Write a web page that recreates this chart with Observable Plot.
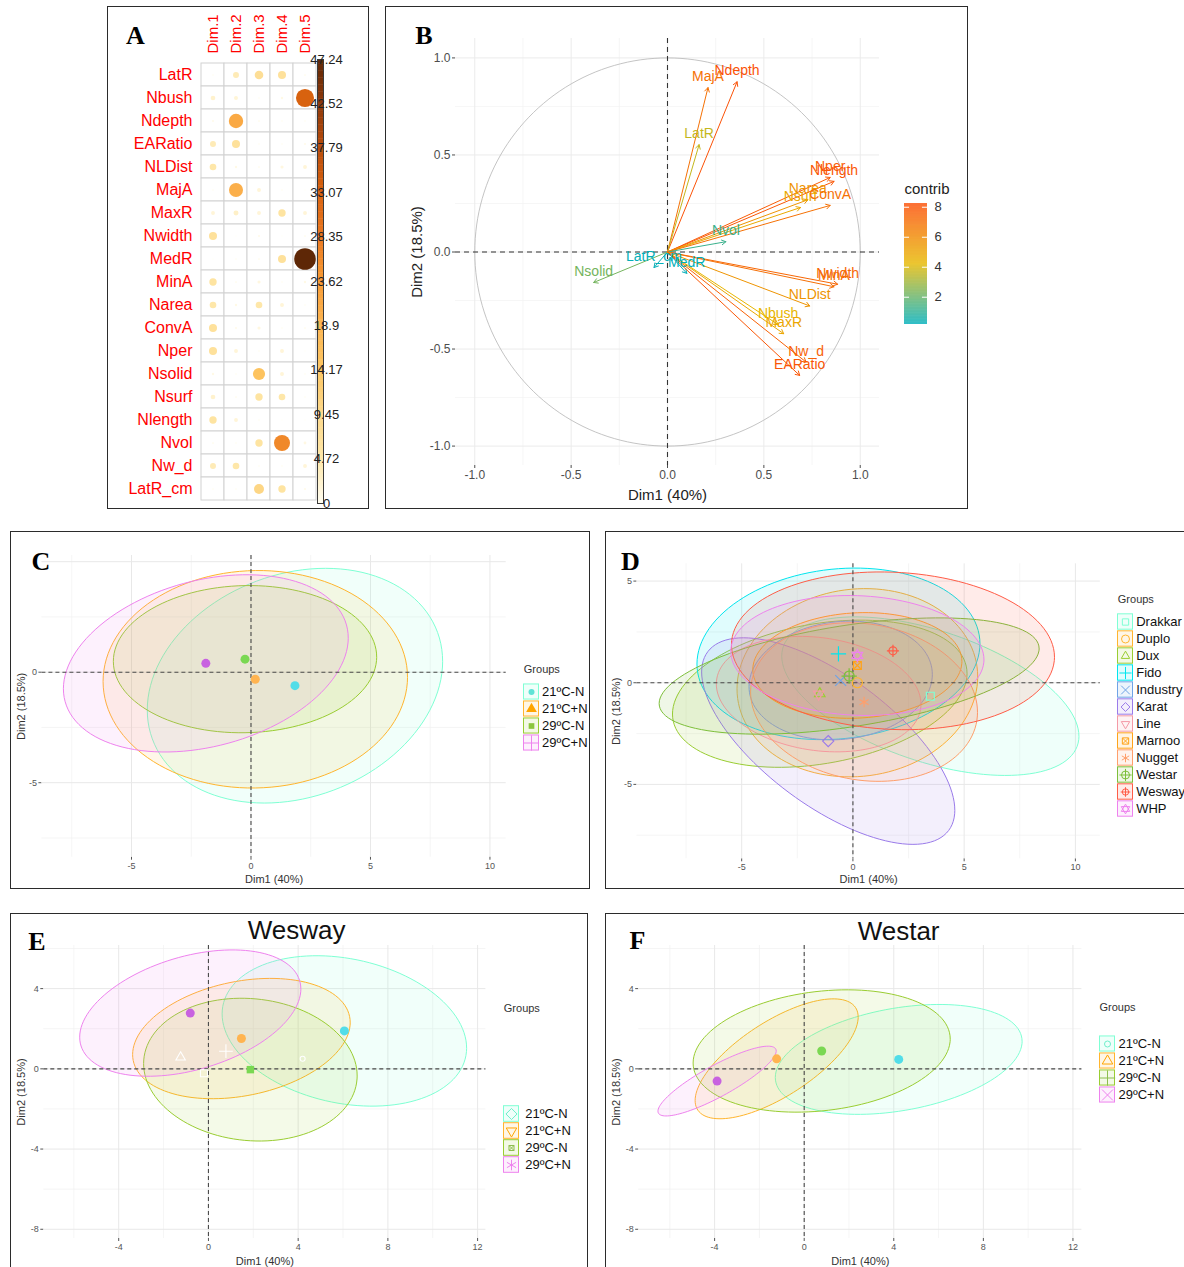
<!DOCTYPE html>
<html>
<head>
<meta charset="utf-8">
<script src="https://cdn.jsdelivr.net/npm/d3@7"></script>
<script src="https://cdn.jsdelivr.net/npm/@observablehq/plot@0.6"></script>
<style>
html,body{margin:0;padding:0;background:#fff;}
body{width:1184px;height:1267px;position:relative;overflow:hidden;}
.panel{position:absolute;}
.panel svg{position:absolute;left:0;top:0;}
.frame{position:absolute;border:1.5px solid #2b2b2b;box-sizing:border-box;pointer-events:none;}
#labels{position:absolute;left:0;top:0;pointer-events:none;}
</style>
</head>
<body>
<script>
// ---------------- DATA ----------------
// Panel A: contributions (%) of variables to dimensions 1-5
const aDims = ["Dim.1","Dim.2","Dim.3","Dim.4","Dim.5"];
const aVars = ["LatR","Nbush","Ndepth","EARatio","NLDist","MajA","MaxR","Nwidth","MedR","MinA","Narea","ConvA","Nper","Nsolid","Nsurf","Nlength","Nvol","Nw_d","LatR_cm"];
const aDim1 = [0.2, 2.2, 0.4, 3.6, 4.5, 0.2, 1.5, 6.5, 0.1, 5.5, 4.5, 6.5, 6.5, 0.6, 2.2, 5.5, 0.3, 3.6, 0.2];
const aDim2 = [3.6, 1.6, 21, 6.5, 0.6, 20, 2.5, 0.1, 0.2, 0.3, 0.6, 0.4, 1.5, 0.2, 0.3, 1.5, 0.2, 4.5, 0.2];
const aDim3 = [7.5, 0.2, 0.3, 0.2, 0.3, 1.5, 1.5, 0.4, 0.3, 1.0, 4.5, 1.0, 0.2, 15, 5.5, 0.2, 5.5, 0.2, 10];
const aDim4 = [6.5, 0.6, 0.2, 0.2, 1.0, 0.2, 5.5, 0.1, 6.5, 0.2, 1.5, 0.2, 1.5, 1.5, 4.5, 0.1, 26, 0.2, 5.5];
const aDim5 = [0.3, 33, 0.2, 0.4, 1.5, 0.1, 1.5, 0.3, 47.24, 0.6, 0.2, 0.3, 0.1, 0.2, 0.2, 0.1, 0.8, 1.5, 0.4];
const aTicks = [0, 4.72, 9.45, 14.17, 18.9, 23.62, 28.35, 33.07, 37.79, 42.52, 47.24];
const aTickLabels = ["0","4.72","9.45","14.17","18.9","23.62","28.35","33.07","37.79","42.52","47.24"];

// Panel B: variable coordinates and contributions
const bVars = ["MajA","Ndepth","LatR","Nper","Nlength","Narea","Nsurf","ConvA","Nvol","LatR_cm","MedR","Nsolid","Nwidth","MinA","NLDist","Nbush","MaxR","Nw_d","EARatio"];
const bDim1 = [0.21, 0.361, 0.164, 0.844, 0.864, 0.728, 0.69, 0.844, 0.303, -0.07, 0.10, -0.383, 0.883, 0.864, 0.738, 0.574, 0.603, 0.719, 0.686];
const bDim2 = [0.847, 0.877, 0.553, 0.384, 0.364, 0.269, 0.229, 0.24, 0.053, -0.08, -0.11, -0.157, -0.166, -0.179, -0.278, -0.374, -0.421, -0.567, -0.636];
const bContrib = [6.9, 8.1, 3.6, 7.7, 7.9, 5.6, 4.8, 6.9, 1.2, 0.25, 0.25, 2.2, 7.3, 7.0, 5.6, 4.3, 4.9, 7.5, 7.9];
const bTicks = [-1, -0.5, 0, 0.5, 1];
const bLegendTicks = [2, 4, 6, 8];

// Panel C: temperature x nitrogen groups (means and ellipse shapes)
const tGroups = ["21ºC-N","21ºC+N","29ºC-N","29ºC+N"];
const cMeanX = [1.84, 0.18, -0.25, -1.89];
const cMeanY = [-0.61, -0.32, 0.59, 0.40];
const cHalfW = [6.18, 6.37, 5.51, 5.96];
const cHalfH = [5.31, 4.92, 3.33, 4.01];
const cTilt  = [1.1, 0.1, 0.1, 1.15];

// Panel D: cultivars
const dGroups = ["Drakkar","Duplo","Dux","Fido","Industry","Karat","Line","Marnoo","Nugget","Westar","Wesway","WHP"];
const dMeanX = [3.48, 0.2, -1.49, -0.65, -0.55, -1.11, -1.54, 0.2, 0.5, -0.17, 1.80, 0.2];
const dMeanY = [-0.66, 0.0, -0.54, 1.42, 0.11, -2.87, -0.56, 0.85, -0.95, 0.33, 1.57, 1.34];
const dHalfW = [6.68, 5.41, 6.62, 6.36, 4.12, 5.69, 4.6, 4.7, 5.1, 8.54, 7.26, 5.69];
const dHalfH = [3.90, 4.63, 3.62, 4.22, 2.92, 5.08, 2.84, 2.6, 3.9, 2.86, 3.88, 2.95];
const dTilt  = [-1.97, 0.3, 1.0, 0.5, 0.3, -3.4, -0.5, 0.2, -0.5, 1.35, -0.3, -0.2];

// Panel E: Wesway
const eMeanX = [6.06, 1.47, 1.87, -0.81];
const eMeanY = [1.89, 1.51, -0.04, 2.78];
const eHalfW = [5.45, 4.85, 4.76, 4.93];
const eHalfH = [3.75, 3.0, 3.56, 3.15];
const eTilt  = [-0.85, 0.8, -0.3, 1.2];
const eIndX = [-1.24, 0.78, 4.2, -0.2];
const eIndY = [0.58, 0.88, 0.5, -0.22];

// Panel F: Westar
const fMeanX = [4.22, -1.23, 0.78, -3.89];
const fMeanY = [0.47, 0.5, 0.89, -0.61];
const fHalfW = [5.51, 3.64, 5.74, 2.64];
const fHalfH = [2.74, 2.99, 3.05, 1.74];
const fTilt  = [0.9, 2.08, 0.6, 1.5];

// ---------------- STYLE ----------------
const SANS = '"Liberation Sans", Arial, sans-serif';
const aColor = {type: "linear", domain: [0, 4.72, 9.45, 14.17, 18.9, 23.62, 28.35, 33.07, 37.79, 42.52, 47.24],
  range: ["#FFFCEF", "#FEE6A6", "#FDD88A", "#FDC662", "#FCB552", "#F89A33", "#E97720", "#D8620F", "#B84C0B", "#8C380A", "#5E2706"]};
const tColors = ["#7FFFD4", "#FFB52E", "#9ACD32", "#EE82EE"];
const tMean = ["#52DDE8", "#FFB450", "#7AD852", "#C862E0"];
const dColors = ["#7FFFD4","#FFB52E","#9ACD32","#00E5EE","#6FA3E6","#9A7BEA","#F49AA6","#FFA31A","#FF9F6B","#7DBF3A","#FF5C47","#EE82EE"];
const dSym = [
  [{s:"square2"}], [{s:"circle"}], [{s:"triangle2"}], [{s:"plus"}], [{s:"times"}], [{s:"diamond2"}],
  [{s:"triangle2", rot:180}], [{s:"square2"},{s:"times", k:0.7}], [{s:"asterisk"}],
  [{s:"circle"},{s:"plus"}], [{s:"circle", k:0.8},{s:"plus", k:0.8}], [{s:"triangle2"},{s:"triangle2", rot:180}]
];

function panel(L, T, W, H) {
  const d = document.createElement("div");
  d.className = "panel";
  Object.assign(d.style, {left: L + "px", top: T + "px", width: W + "px", height: H + "px"});
  document.body.appendChild(d);
  return d;
}
function frame(L, T, W, H) {
  const f = document.createElement("div");
  f.className = "frame";
  Object.assign(f.style, {left: L + "px", top: T + "px", width: W + "px", height: H + "px"});
  document.body.appendChild(f);
}
const st = (fs, color) => ({background: "transparent", overflow: "visible", fontFamily: SANS, fontSize: fs, color: color || "#4d4d4d"});

function ellipsePts(cx, cy, hw, hh, tilt) {
  const k = Math.sqrt(Math.max(hh * hh - tilt * tilt, 0));
  return d3.range(0, 360, 3).map(a => {
    const t = a * Math.PI / 180;
    return {x: cx + hw * Math.cos(t), y: cy + tilt * Math.cos(t) + k * Math.sin(t)};
  });
}

// ---------------- PANEL A ----------------
{
  const p = panel(107, 6, 262, 503);
  const cols = [aDim1, aDim2, aDim3, aDim4, aDim5];
  const cells = aVars.flatMap((r, i) => aDims.map((d, j) => ({row: r, dim: d, v: cols[j][i]})));
  p.appendChild(Plot.plot({
    width: 262, height: 503, marginLeft: 93, marginRight: 52, marginTop: 53, marginBottom: 6,
    x: {type: "band", domain: aDims, padding: 0, axis: null},
    y: {type: "band", domain: aVars, padding: 0, axis: null},
    r: {type: "sqrt", domain: [0, 47.24], range: [0, 10.8]},
    color: aColor,
    style: st("12px"),
    marks: [
      Plot.cell(cells, {x: "dim", y: "row", fill: "white", stroke: "#d2d2d2", strokeWidth: 1, inset: 0}),
      Plot.dot(cells, {x: "dim", y: "row", r: "v", fill: "v"}),
      Plot.text(aVars, {y: d => d, frameAnchor: "left", textAnchor: "end", lineAnchor: "middle", dx: -8, fill: "#ff0000", fontSize: 16}),
      Plot.text(aDims, {x: d => d, frameAnchor: "top", rotate: -90, textAnchor: "start", lineAnchor: "middle", dy: -6, fill: "#ff0000", fontSize: 15})
    ]
  }));
  const aBar = d3.range(0, 47.24, 0.25);
  p.appendChild(Plot.plot({
    width: 262, height: 503, marginLeft: 210, marginRight: 46, marginTop: 53, marginBottom: 6,
    x: {domain: [0, 1], axis: null},
    y: {domain: [0, 47.24], axis: null},
    color: aColor,
    style: st("13px"),
    marks: [
      Plot.rect(aBar, {x1: () => 0, x2: () => 1, y1: d => d, y2: d => Math.min(d + 0.3, 47.24), fill: d => d}),
      Plot.frame({stroke: "#3a3a3a", strokeWidth: 1}),
      Plot.text(aTicks, {y: d => d, frameAnchor: "right", text: (d, i) => aTickLabels[i], textAnchor: "middle", lineAnchor: "middle", dx: 3, fontSize: 13, fill: "#222"})
    ]
  }));
}

// ---------------- PANEL B ----------------
{
  const p = panel(385, 6, 583, 503);
  const bData = bVars.map((v, i) => ({name: v, x: bDim1[i], y: bDim2[i], c: bContrib[i]}));
  const circle = d3.range(0, 361, 2).map(a => ({x: Math.cos(a * Math.PI / 180), y: Math.sin(a * Math.PI / 180)}));
  const minor = [-0.75, -0.25, 0.25, 0.75];
  const colorB = {type: "linear", domain: [0.18, 4.215, 8.25], range: ["#00AFBB", "#E7B800", "#FC4E07"]};
  p.appendChild(Plot.plot({
    width: 583, height: 503, marginLeft: 70, marginRight: 89, marginTop: 32, marginBottom: 44,
    x: {domain: [-1.1, 1.1], ticks: bTicks, tickFormat: d => d.toFixed(1), tickSize: 3, tickPadding: 2, label: null},
    y: {domain: [-1.1, 1.1], ticks: bTicks, tickFormat: d => d.toFixed(1), tickSize: 3, tickPadding: 2, label: null},
    color: colorB,
    style: st("12px"),
    marks: [
      Plot.ruleX(minor, {stroke: "#f2f2f2", strokeWidth: 0.7}),
      Plot.ruleY(minor, {stroke: "#f2f2f2", strokeWidth: 0.7}),
      Plot.ruleX(bTicks, {stroke: "#ebebeb", strokeWidth: 1}),
      Plot.ruleY(bTicks, {stroke: "#ebebeb", strokeWidth: 1}),
      Plot.line(circle, {x: "x", y: "y", stroke: "#b5b5b5", strokeWidth: 0.8}),
      Plot.ruleX([0], {stroke: "#333", strokeDasharray: "5,4", strokeWidth: 1.1}),
      Plot.ruleY([0], {stroke: "#333", strokeDasharray: "5,4", strokeWidth: 1.1}),
      Plot.arrow(bData, {x1: () => 0, y1: () => 0, x2: "x", y2: "y", stroke: "c", headLength: 7, strokeWidth: 1}),
      Plot.text(bData, {x: "x", y: "y", text: "name", fill: "c", dy: -11, fontSize: 14, lineAnchor: "middle"}),
      Plot.text(["Dim1 (40%)"], {frameAnchor: "bottom", lineAnchor: "middle", dy: 30, fontSize: 15, fill: "#222"}),
      Plot.text(["Dim2 (18.5%)"], {frameAnchor: "left", rotate: -90, textAnchor: "middle", lineAnchor: "middle", dx: -38, fontSize: 15, fill: "#222"})
    ]
  }));
  const bBar = d3.range(0.18, 8.25, 0.04);
  p.appendChild(Plot.plot({
    width: 583, height: 503, marginLeft: 519, marginRight: 41, marginTop: 197, marginBottom: 185,
    x: {domain: [0, 1], axis: null},
    y: {domain: [0.18, 8.25], axis: null},
    color: colorB,
    style: st("13px"),
    marks: [
      Plot.rect(bBar, {x1: () => 0, x2: () => 1, y1: d => d, y2: d => Math.min(d + 0.045, 8.25), fill: d => d}),
      Plot.ruleY(bLegendTicks, {x1: () => 0, x2: () => 0.22, stroke: "white", strokeWidth: 1}),
      Plot.ruleY(bLegendTicks, {x1: () => 0.78, x2: () => 1, stroke: "white", strokeWidth: 1}),
      Plot.text(bLegendTicks, {y: d => d, frameAnchor: "right", text: d => String(d), textAnchor: "start", lineAnchor: "middle", dx: 7, fontSize: 13, fill: "#333"}),
      Plot.text(["contrib"], {frameAnchor: "top-left", textAnchor: "start", lineAnchor: "middle", dy: -14, fontSize: 15, fill: "#222"})
    ]
  }));
}

// ---------------- PCA individual panels ----------------
function indPlot(o) {
  const marks = [
    Plot.ruleX(o.xMinor, {stroke: "#f1f1f1", strokeWidth: 0.7}),
    Plot.ruleY(o.yMinor, {stroke: "#f1f1f1", strokeWidth: 0.7}),
    Plot.ruleX(o.xMajor, {stroke: "#e8e8e8", strokeWidth: 1}),
    Plot.ruleY(o.yMajor, {stroke: "#e8e8e8", strokeWidth: 1})
  ];
  o.cx.forEach((cx, i) => {
    marks.push(Plot.line(ellipsePts(cx, o.cy[i], o.hw[i], o.hh[i], o.tilt[i]),
      {x: "x", y: "y", curve: "linear-closed", stroke: o.colors[i], fill: o.colors[i], fillOpacity: o.alpha || 0.1, strokeWidth: 1}));
  });
  marks.push(Plot.ruleX([0], {stroke: "#4a4a4a", strokeDasharray: "4,3", strokeWidth: 1.1}));
  marks.push(Plot.ruleY([0], {stroke: "#4a4a4a", strokeDasharray: "4,3", strokeWidth: 1.1}));
  (o.extra || []).forEach(m => marks.push(m));
  o.cx.forEach((cx, i) => {
    o.meanParts[i].forEach(pp => marks.push(Plot.dot([0], {
      x: () => cx, y: () => o.cy[i], symbol: pp.s, r: pp.r, rotate: pp.rot || 0,
      fill: pp.fill || "none", stroke: pp.stroke || "none", strokeWidth: pp.sw || 1
    })));
  });
  marks.push(Plot.text(["Dim1 (40%)"], {frameAnchor: "bottom", lineAnchor: "middle", dy: o.xTitleDy, fontSize: 11, fill: "#333"}));
  marks.push(Plot.text(["Dim2 (18.5%)"], {frameAnchor: "left", rotate: -90, textAnchor: "middle", lineAnchor: "middle", dx: o.yTitleDx, fontSize: 11, fill: "#333"}));
  return Plot.plot({
    width: o.W, height: o.H, marginLeft: o.mL, marginRight: o.mR, marginTop: o.mT, marginBottom: o.mB,
    x: {domain: o.xd, ticks: o.xTicks, tickFormat: d => String(d), tickSize: 3, tickPadding: 2, label: null},
    y: {domain: o.yd, ticks: o.yTicks, tickFormat: d => String(d), tickSize: 3, tickPadding: 2, label: null},
    style: st("9px", "#555"),
    marks
  });
}

function legendPlot(o) {
  const n = o.groups.length;
  const mT = o.firstY - o.step / 2;
  const mB = o.H - (o.firstY + o.step * (n - 0.5));
  const ins = (o.step - 16) / 2;
  const marks = [
    Plot.cell(o.groups, {x: () => "k", y: d => d, fill: (d, i) => o.colors[i], fillOpacity: 0.12,
      stroke: (d, i) => o.colors[i], strokeWidth: 1, insetTop: ins, insetBottom: ins, insetLeft: 0.5, insetRight: 0.5})
  ];
  o.groups.forEach((g, i) => {
    o.parts[i].forEach(pp => marks.push(Plot.dot([g], {
      x: () => "k", y: d => d, symbol: pp.s, r: pp.r, rotate: pp.rot || 0,
      fill: pp.fill || "none", stroke: pp.stroke || "none", strokeWidth: pp.sw || 1
    })));
  });
  marks.push(Plot.text(o.groups, {x: () => "k", y: d => d, text: d => d, textAnchor: "start", lineAnchor: "middle", dx: o.labelDx, fontSize: 13, fill: "#111"}));
  marks.push(Plot.text(["Groups"], {frameAnchor: "top-left", textAnchor: "start", lineAnchor: "middle", dy: o.titleY - mT, fontSize: 11, fill: "#333"}));
  return Plot.plot({
    width: o.W, height: o.H, marginLeft: o.boxLeft, marginRight: o.W - o.boxLeft - 16, marginTop: mT, marginBottom: mB,
    x: {type: "band", domain: ["k"], padding: 0, axis: null},
    y: {type: "band", domain: o.groups, padding: 0, axis: null},
    color: {type: "identity"},
    style: st("13px", "#111"),
    marks
  });
}

const meanDots = tMean.map(c => [{s: "circle", r: 4.5, fill: c}]);

// ---------------- PANEL C ----------------
{
  const p = panel(10, 531, 580, 358);
  p.appendChild(indPlot({
    W: 580, H: 358, mL: 31.4, mR: 84.3, mT: 24, mB: 32.3, xd: [-8.75, 10.68], yd: [-8.37, 5.28],
    xTicks: [-5, 0, 5, 10], yTicks: [-5, 0], xMajor: [-5, 0, 5, 10], xMinor: [-7.5, -2.5, 2.5, 7.5],
    yMajor: [-5, 0, 5], yMinor: [-7.5, -2.5, 2.5],
    cx: cMeanX, cy: cMeanY, hw: cHalfW, hh: cHalfH, tilt: cTilt, colors: tColors, meanParts: meanDots,
    xTitleDy: 22, yTitleDx: -20, alpha: 0.11
  }));
  p.appendChild(legendPlot({
    W: 580, H: 358, boxLeft: 513.3, firstY: 158.7, step: 17.9, groups: tGroups, colors: tColors, labelDx: 10.5, titleY: 138,
    parts: [[{s: "circle", r: 3, fill: "#5FE3D6"}], [{s: "triangle", r: 4, fill: "#FFA500"}], [{s: "square", r: 3.2, fill: "#8CC63F"}], [{s: "plus", r: 5, stroke: "#EE82EE"}]]
  }));
}

// ---------------- PANEL D ----------------
{
  const p = panel(605, 531, 579, 358);
  const dMeans = dSym.map((parts, i) => parts.map(q => ({s: q.s, rot: q.rot, r: 5 * (q.k || 1), stroke: dColors[i], sw: 1.2})));
  const dLeg = dSym.map((parts, i) => parts.map(q => ({s: q.s, rot: q.rot, r: 4 * (q.k || 1), stroke: dColors[i], sw: 1})));
  p.appendChild(indPlot({
    W: 579, H: 358, mL: 31.4, mR: 84.2, mT: 32.3, mB: 30.7, xd: [-9.71, 11.12], yd: [-8.66, 5.85],
    xTicks: [-5, 0, 5, 10], yTicks: [-5, 0, 5], xMajor: [-5, 0, 5, 10], xMinor: [-7.5, -2.5, 2.5, 7.5],
    yMajor: [-5, 0, 5], yMinor: [-7.5, -2.5, 2.5],
    cx: dMeanX, cy: dMeanY, hw: dHalfW, hh: dHalfH, tilt: dTilt, colors: dColors, meanParts: dMeans,
    xTitleDy: 21, yTitleDx: -20, alpha: 0.12
  }));
  p.appendChild(legendPlot({
    W: 579, H: 358, boxLeft: 512.3, firstY: 87, step: 17.64, groups: dGroups, colors: dColors, labelDx: 10.7, titleY: 68,
    parts: dLeg
  }));
}

// ---------------- PANEL E ----------------
{
  const p = panel(10, 913, 578, 354);
  const eSyms = ["triangle2", "plus", "circle", "square2"];
  const extra = eIndX.map((x, i) => Plot.dot([0], {x: () => x, y: () => eIndY[i], symbol: eSyms[i], r: i === 2 ? 2.5 : 4.5, stroke: "white", fill: "none", strokeWidth: 1.1}));
  const eMeans = [[{s: "circle", r: 4.5, fill: tMean[0]}], [{s: "circle", r: 4.5, fill: tMean[1]}], [{s: "square", r: 4.2, fill: tMean[2]}], [{s: "circle", r: 4.5, fill: tMean[3]}]];
  p.appendChild(indPlot({
    W: 578, H: 354, mL: 33.3, mR: 102.6, mT: 32, mB: 29, xd: [-7.34, 12.37], yd: [-8.46, 6.15],
    xTicks: [-4, 0, 4, 8, 12], yTicks: [-8, -4, 0, 4], xMajor: [-4, 0, 4, 8, 12], xMinor: [-6, -2, 2, 6, 10],
    yMajor: [-8, -4, 0, 4], yMinor: [-6, -2, 2, 6],
    cx: eMeanX, cy: eMeanY, hw: eHalfW, hh: eHalfH, tilt: eTilt, colors: tColors, meanParts: eMeans, extra,
    xTitleDy: 22.7, yTitleDx: -22.3, alpha: 0.11
  }));
  p.appendChild(legendPlot({
    W: 578, H: 354, boxLeft: 493.3, firstY: 199.7, step: 17.4, groups: tGroups, colors: tColors, labelDx: 13.7, titleY: 94.7,
    parts: [[{s: "diamond2", r: 5, stroke: "#6FEFCB"}], [{s: "triangle2", rot: 180, r: 5, stroke: "#FFA500"}],
            [{s: "square2", r: 3.2, stroke: "#8DBE4E"}, {s: "times", r: 2.4, stroke: "#8DBE4E"}], [{s: "asterisk", r: 5, stroke: "#EE82EE"}]]
  }));
}

// ---------------- PANEL F ----------------
{
  const p = panel(605, 913, 579, 354);
  p.appendChild(indPlot({
    W: 579, H: 354, mL: 33.2, mR: 102.6, mT: 32, mB: 29, xd: [-7.39, 12.4], yd: [-8.46, 6.15],
    xTicks: [-4, 0, 4, 8, 12], yTicks: [-8, -4, 0, 4], xMajor: [-4, 0, 4, 8, 12], xMinor: [-6, -2, 2, 6, 10],
    yMajor: [-8, -4, 0, 4], yMinor: [-6, -2, 2, 6],
    cx: fMeanX, cy: fMeanY, hw: fHalfW, hh: fHalfH, tilt: fTilt, colors: tColors, meanParts: meanDots,
    xTitleDy: 22.7, yTitleDx: -22.2, alpha: 0.11
  }));
  p.appendChild(legendPlot({
    W: 579, H: 354, boxLeft: 494, firstY: 128.7, step: 17.9, groups: tGroups, colors: tColors, labelDx: 11, titleY: 94,
    parts: [[{s: "circle", r: 3, stroke: "#6FEFCB"}], [{s: "triangle2", r: 5, stroke: "#FFA500"}], [{s: "plus", r: 5, stroke: "#8DBE4E"}], [{s: "times", r: 5, stroke: "#EE82EE"}]]
  }));
}

// ---------------- Frames, panel letters, titles ----------------
frame(107, 6, 262, 503);
frame(385, 6, 583, 503);
frame(10, 531, 580, 358);
frame(605, 531, 600, 358);
frame(10, 913, 578, 400);
frame(605, 913, 600, 400);

const letters = [["A", 135.5, 43.5], ["B", 424, 44], ["C", 41, 569.5], ["D", 630.5, 570], ["E", 37, 950], ["F", 637.5, 949]];
const titles = [["Wesway", 296.7, 939], ["Westar", 898.6, 940]];
const svg = d3.select("body").append("svg").attr("id", "labels").attr("width", 1184).attr("height", 1267);
svg.selectAll("text.l").data(letters).join("text").attr("class", "l")
  .attr("x", d => d[1]).attr("y", d => d[2]).attr("text-anchor", "middle")
  .attr("font-family", '"Liberation Serif", "Times New Roman", serif').attr("font-weight", "bold").attr("font-size", 26)
  .text(d => d[0]);
svg.selectAll("text.t").data(titles).join("text").attr("class", "t")
  .attr("x", d => d[1]).attr("y", d => d[2]).attr("text-anchor", "middle")
  .attr("font-family", SANS).attr("font-size", 26).attr("fill", "#111")
  .text(d => d[0]);
</script>
</body>
</html>
